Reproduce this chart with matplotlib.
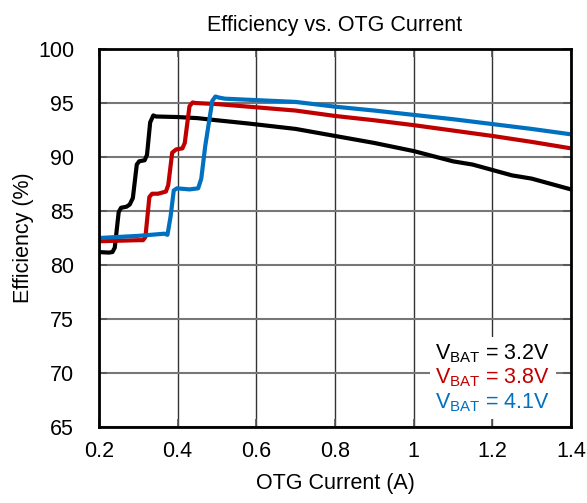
import matplotlib
matplotlib.use("Agg")
import matplotlib.pyplot as plt

plt.rcParams['font.family'] = ['Liberation Sans', 'DejaVu Sans']
plt.rcParams['mathtext.fontset'] = 'custom'
plt.rcParams['mathtext.rm'] = 'Liberation Sans'
plt.rcParams['mathtext.it'] = 'Liberation Sans'

title = "Efficiency vs. OTG Current"
xlabel = "OTG Current (A)"
ylabel = "Efficiency (%)"

x_32 = [0.20, 0.225, 0.234, 0.240, 0.250, 0.256, 0.270, 0.278, 0.286, 0.296, 0.302, 0.316, 0.322,
        0.330, 0.338, 0.345, 0.40, 0.45, 0.50, 0.58, 0.70, 0.80, 0.90, 1.00, 1.10, 1.15, 1.20, 1.25,
        1.30, 1.40]
y_32 = [81.2, 81.15, 81.2, 81.6, 84.9, 85.3, 85.4, 85.6, 86.2, 89.3, 89.6, 89.7, 90.2,
        93.2, 93.85, 93.75, 93.7, 93.6, 93.4, 93.1, 92.6, 91.95, 91.3, 90.55, 89.6, 89.3, 88.8, 88.3,
        88.0, 87.0]

x_38 = [0.20, 0.30, 0.312, 0.318, 0.328, 0.335, 0.350, 0.370, 0.376, 0.386, 0.396, 0.412, 0.418,
        0.430, 0.438, 0.445, 0.50, 0.58, 0.70, 0.80, 0.90, 1.00, 1.10, 1.20, 1.30, 1.40]
y_38 = [82.2, 82.3, 82.3, 82.6, 86.3, 86.6, 86.6, 86.8, 87.4, 90.4, 90.7, 90.8, 91.3,
        94.7, 95.05, 95.0, 94.9, 94.66, 94.3, 93.8, 93.4, 92.95, 92.45, 91.95, 91.4, 90.8]

x_41 = [0.20, 0.30, 0.366, 0.374, 0.382, 0.390, 0.398, 0.430, 0.452, 0.460, 0.470, 0.488, 0.496,
        0.505, 0.52, 0.58, 0.70, 0.80, 0.90, 1.00, 1.10, 1.20, 1.30, 1.40]
y_41 = [82.5, 82.7, 82.9, 82.8, 84.5, 86.9, 87.1, 87.0, 87.1, 88.0, 91.0, 95.2, 95.6,
        95.5, 95.4, 95.3, 95.1, 94.66, 94.3, 93.9, 93.5, 93.05, 92.6, 92.1]

labels = [r"V$_{\mathrm{BAT}}$ = 3.2V", r"V$_{\mathrm{BAT}}$ = 3.8V", r"V$_{\mathrm{BAT}}$ = 4.1V"]
colors = ["#000000", "#C00000", "#0070C0"]

xticks = [0.2, 0.4, 0.6, 0.8, 1.0, 1.2, 1.4]
xtick_labels = ["0.2", "0.4", "0.6", "0.8", "1", "1.2", "1.4"]
yticks = [65, 70, 75, 80, 85, 90, 95, 100]

fig = plt.figure(figsize=(5.87, 5.03), dpi=100)
ax = fig.add_axes([0.1687, 0.151, 0.804, 0.7516])

for xs, ys, lab, c in zip([x_32, x_38, x_41], [y_32, y_38, y_41], labels, colors):
    ax.plot(xs, ys, color=c, lw=3, label=lab, solid_joinstyle='round', zorder=3)

ax.set_xlim(0.2, 1.4)
ax.set_ylim(65, 100)
ax.set_xticks(xticks)
ax.set_xticklabels(xtick_labels)
ax.set_yticks(yticks)
ax.xaxis.grid(True, color="#333333", lw=1.0)
ax.yaxis.grid(True, color="#777777", lw=1.5)
ax.set_axisbelow(True)
ax.tick_params(direction='in', length=6, width=1.2, labelsize=15.5,
               top=True, right=True, color="#555555")
ax.tick_params(axis='x', pad=10)
ax.tick_params(axis='y', pad=18)
for s in ax.spines.values():
    s.set_linewidth(2)
    s.set_color("black")
    s.set_zorder(5)

ax.set_title(title, fontsize=15.5, pad=13)
ax.set_xlabel(xlabel, fontsize=15.5, labelpad=8)
ax.set_ylabel(ylabel, fontsize=15.5, labelpad=3)

leg = ax.legend(loc='lower right', handlelength=0, handletextpad=0, fontsize=15.5,
                frameon=True, framealpha=1, facecolor='white', edgecolor='none',
                bbox_to_anchor=(0.968, 0.02), borderaxespad=0.0, borderpad=0.25,
                labelspacing=0.1)
for t, c in zip(leg.get_texts(), colors):
    t.set_color(c)
for h in leg.legend_handles:
    h.set_visible(False)
leg.set_zorder(4)

fig.savefig("out.png", dpi=100)
